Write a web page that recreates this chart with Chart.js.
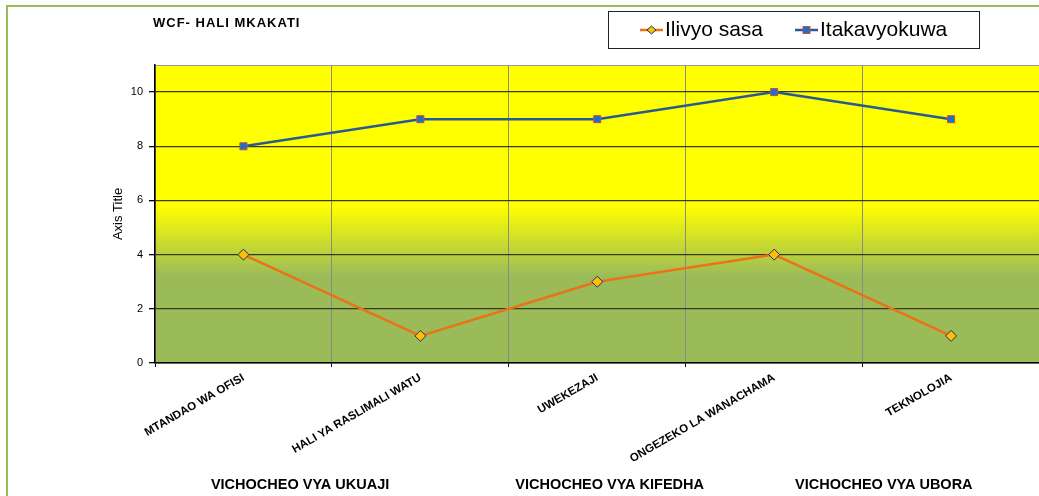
<!DOCTYPE html>
<html>
<head>
<meta charset="utf-8">
<script src="https://cdn.jsdelivr.net/npm/chart.js@4"></script>
<style>
  html, body { margin: 0; padding: 0; background: #fff; overflow: hidden; }
  #wrap { width: 1046px; height: 496px; position: relative; }
</style>
</head>
<body>
<div id="wrap"><canvas id="chart"></canvas></div>
<script>
// chart data
const categories = ['MTANDAO WA OFISI', 'HALI YA RASLIMALI WATU', 'UWEKEZAJI', 'ONGEZEKO LA WANACHAMA', 'TEKNOLOJIA'];
const ilivyoSasa = [4, 1, 3, 4, 1];
const itakavyokuwa = [8, 9, 9, 10, 9];
const groupLabels = ['VICHOCHEO VYA UKUAJI', 'VICHOCHEO VYA KIFEDHA', 'VICHOCHEO VYA UBORA'];
const groupAt = [0.32, 2.07, 3.62];   // centre of each group label, in category units
const chartTitle = 'WCF- HALI MKAKATI';

const ORANGE = '#EA7317';
const BLUE = '#2A5A92';

// yellow -> green fill behind the plot
const plotBackground = {
  id: 'plotBackground',
  beforeDraw(chart) {
    const { ctx, chartArea: a } = chart;
    const y = chart.scales.y;
    const g = ctx.createLinearGradient(0, a.top, 0, a.bottom);
    g.addColorStop(0, '#FFFF00');
    g.addColorStop((y.getPixelForValue(5.8) - a.top) / (a.bottom - a.top), '#FFFF00');
    g.addColorStop((y.getPixelForValue(3.2) - a.top) / (a.bottom - a.top), '#9BBB59');
    g.addColorStop(1, '#9BBB59');
    ctx.save();
    ctx.fillStyle = g;
    ctx.fillRect(a.left, a.top, a.right - a.left, a.bottom - a.top);
    ctx.strokeStyle = '#999';
    ctx.lineWidth = 1;
    ctx.beginPath();
    ctx.moveTo(a.left, a.top + 0.5);
    ctx.lineTo(a.right, a.top + 0.5);
    ctx.stroke();
    ctx.restore();
  }
};

// frame, title, legend box and group labels
const decorations = {
  id: 'decorations',
  afterDraw(chart) {
    const { ctx } = chart;
    const x = chart.scales.x;
    ctx.save();
    ctx.strokeStyle = '#9BBB59';
    ctx.lineWidth = 2;
    ctx.strokeRect(7, 6, 1200, 800);

    ctx.fillStyle = '#000';
    ctx.font = 'bold 13px "Liberation Sans", Arial, sans-serif';
    ctx.letterSpacing = '1px';
    ctx.textBaseline = 'middle';
    ctx.textAlign = 'left';
    ctx.fillText(chartTitle, 153, 23);
    ctx.letterSpacing = '0px';

    // legend
    ctx.fillStyle = '#fff';
    ctx.fillRect(608, 11, 371, 37);
    ctx.strokeStyle = '#222';
    ctx.lineWidth = 1;
    ctx.strokeRect(608.5, 11.5, 371, 37);
    const items = [
      { label: 'Ilivyo sasa', color: ORANGE, x: 640, marker: 'diamond' },
      { label: 'Itakavyokuwa', color: BLUE, x: 795, marker: 'square' }
    ];
    ctx.font = '21px "Liberation Sans", Arial, sans-serif';
    items.forEach(it => {
      ctx.strokeStyle = it.color;
      ctx.lineWidth = 2.5;
      ctx.beginPath();
      ctx.moveTo(it.x, 30);
      ctx.lineTo(it.x + 23, 30);
      ctx.stroke();
      const cx = it.x + 11.5;
      ctx.lineWidth = 1;
      if (it.marker === 'diamond') {
        ctx.fillStyle = '#FFC000';
        ctx.strokeStyle = '#1F2A7A';
        ctx.beginPath();
        ctx.moveTo(cx, 26); ctx.lineTo(cx + 4.5, 30); ctx.lineTo(cx, 34); ctx.lineTo(cx - 4.5, 30);
        ctx.closePath(); ctx.fill(); ctx.stroke();
      } else {
        ctx.fillStyle = '#1F6FC5';
        ctx.strokeStyle = '#C0504D';
        ctx.fillRect(cx - 3.5, 26.5, 7, 7);
        ctx.strokeRect(cx - 3.5, 26.5, 7, 7);
      }
      ctx.fillStyle = '#000';
      ctx.textAlign = 'left';
      ctx.fillText(it.label, it.x + 25, 30);
    });

    // group labels under the category labels
    ctx.font = 'bold 14.5px "Liberation Sans", Arial, sans-serif';
    ctx.textAlign = 'center';
    groupLabels.forEach((t, i) => {
      ctx.fillText(t, x.getPixelForValue(groupAt[i]), 485);
    });
    ctx.restore();
  }
};

new Chart(document.getElementById('chart'), {
  type: 'line',
  data: {
    labels: categories,
    datasets: [
      {
        label: 'Ilivyo sasa',
        data: ilivyoSasa,
        borderColor: ORANGE,
        borderWidth: 2.5,
        pointStyle: 'rectRot',
        pointRadius: 5.5,
        pointBackgroundColor: '#FFC000',
        pointBorderColor: '#1F2A7A',
        pointBorderWidth: 1,
        tension: 0
      },
      {
        label: 'Itakavyokuwa',
        data: itakavyokuwa,
        borderColor: BLUE,
        borderWidth: 2.5,
        pointStyle: 'rect',
        pointRadius: 5,
        pointBackgroundColor: '#1F6FC5',
        pointBorderColor: '#C0504D',
        pointBorderWidth: 1,
        tension: 0
      }
    ]
  },
  options: {
    responsive: true,
    maintainAspectRatio: false,
    animation: false,
    layout: { padding: { left: 100, top: 65, right: 0, bottom: 0 } },
    plugins: {
      legend: { display: false },
      title: { display: false },
      tooltip: { enabled: false }
    },
    scales: {
      x: {
        offset: true,
        grid: {
          offset: true,
          color: '#8A8A8A',
          lineWidth: 1,
          drawTicks: true,
          tickLength: 4,
          tickColor: '#000'
        },
        border: { color: '#000', width: 1.5 },
        ticks: {
          color: '#000',
          minRotation: 30,
          maxRotation: 30,
          autoSkip: false,
          padding: 4,
          font: { family: '"Liberation Sans", Arial, sans-serif', size: 11.5, weight: 'bold' }
        },
        afterFit(scale) {
          scale.height = 133;
          scale.paddingRight = 0;
          scale.paddingLeft = 0;
        }
      },
      y: {
        min: 0,
        max: 11,
        ticks: {
          stepSize: 2,
          includeBounds: false,
          color: '#000',
          padding: 6,
          font: { family: '"Liberation Sans", Arial, sans-serif', size: 11 }
        },
        grid: {
          color: '#3A3A1A',
          lineWidth: 1.3,
          tickLength: 6,
          tickColor: '#000'
        },
        border: { color: '#000', width: 1.5 },
        title: {
          display: true,
          text: 'Axis Title',
          color: '#000',
          padding: { top: 11, bottom: 0 },
          font: { family: '"Liberation Sans", Arial, sans-serif', size: 13 }
        },
        afterFit(scale) {
          scale.width = 55;
        }
      }
    }
  },
  plugins: [plotBackground, decorations]
});
</script>
</body>
</html>
